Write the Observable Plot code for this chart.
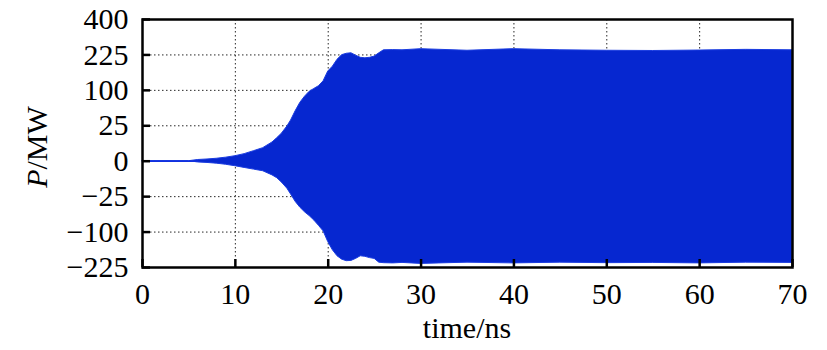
<!DOCTYPE html>
<html><head><meta charset="utf-8">
<script src="https://cdn.jsdelivr.net/npm/d3@7"></script>
<script src="https://cdn.jsdelivr.net/npm/@observablehq/plot@0.6"></script>
<style>
html,body{margin:0;padding:0;background:#fff;}
#chart svg{display:block;}
</style></head><body><div id="chart"></div>
<script>
// envelope of the oscillating power signal
const time  = [0,5,6,7,8,9,10,11,12,13,14,14.5,15,15.6,16,16.5,17,17.5,18,18.5,19,19.5,20,20.5,21,21.5,22,22.5,23,23.5,24,24.5,25,25.5,26,27,28,30,35,40,45,50,55,60,65,70];
const upper = [0,0,0.03,0.06,0.12,0.25,0.5,1,2,3.4,7,10.5,15,24,33,50,68,83,96,104,112,127,160,178,205,224,230,232,222,213,211,213,218,232,245,246,245,250,243,250,245,243,242,244,247,245];
const lower = [0,0,-0.03,-0.06,-0.12,-0.25,-0.5,-0.9,-1.4,-2,-4,-5.7,-9,-15,-22,-33,-43,-52,-60,-70,-83,-98,-130,-158,-180,-193,-199,-198,-190,-180,-182,-187,-190,-205,-207,-208,-206,-210,-205,-208,-205,-207,-206,-208,-205,-206];
const xTicks = [0,10,20,30,40,50,60,70];
const xGrid = [10,20,30,40,50,60];
const yTicks = [400,225,100,25,0,-25,-100,-225];
const yGrid = [225,100,25,0,-25,-100];
const flatTime = [0,6];
const flatValue = [0,0];

const data = time.map((t,i)=>({t, lo: lower[i], hi: upper[i]}));
const flat = flatTime.map((t,i)=>({t, v: flatValue[i]}));

const W = 827, H = 350, mL = 142, mR = 35, mT = 19, mB = 83;
const fw = W - mL - mR, fh = H - mT - mB;
const fmt = d => d < 0 ? "\u2212" + Math.abs(d) : String(d);
const blue = "#0627d0";

const plot = Plot.plot({
  width: W, height: H,
  marginLeft: mL, marginRight: mR, marginTop: mT, marginBottom: mB,
  style: {fontFamily: "'Liberation Serif', 'Times New Roman', serif", fontSize: "30px", color: "#000", background: "#fff"},
  x: {domain: [0,70]},
  y: {type: "sqrt", domain: [-225,400]},
  marks: [
    Plot.gridX(xGrid, {stroke: "#000", strokeOpacity: 0.85, strokeWidth: 1, strokeDasharray: "1.5,2.5"}),
    Plot.gridY(yGrid, {stroke: "#000", strokeOpacity: 0.85, strokeWidth: 1, strokeDasharray: "1.5,2.5"}),
    Plot.areaY(data, {x: "t", y1: "lo", y2: "hi", fill: blue, stroke: "#1a3ce0", strokeWidth: 1}),
    Plot.lineY(flat, {x: "t", y: "v", stroke: "#1030e0", strokeWidth: 1.5}),
    Plot.tickY(yTicks, {y: d=>d, insetRight: fw - 8, stroke: "#000", strokeWidth: 2.5}),
    Plot.tickX(xTicks, {x: d=>d, insetTop: fh - 8, stroke: "#000", strokeWidth: 2.5}),
    Plot.axisY(yTicks, {tickSize: 0, tickPadding: 14, tickFormat: fmt, label: null}),
    Plot.axisX(xTicks, {tickSize: 0, tickPadding: 15, tickFormat: fmt, label: null}),
    Plot.frame({stroke: "#000", strokeWidth: 2.5})
  ]
});
document.getElementById("chart").appendChild(plot);

const svg = d3.select(plot);
const xs = plot.scale("x"), ys = plot.scale("y");
const cx = (xs.range[0] + xs.range[1]) / 2;
const cy = (ys.range[0] + ys.range[1]) / 2;
svg.append("text")
  .attr("x", cx).attr("y", 338)
  .attr("text-anchor", "middle")
  .attr("font-size", 30)
  .attr("fill", "#000")
  .text("time/ns");
const yl = svg.append("text")
  .attr("transform", `translate(47,${cy + 4}) rotate(-90)`)
  .attr("text-anchor", "middle")
  .attr("font-size", 30)
  .attr("fill", "#000");
yl.append("tspan").attr("font-style", "italic").text("P");
yl.append("tspan").text("/MW");
</script>
</body></html>
